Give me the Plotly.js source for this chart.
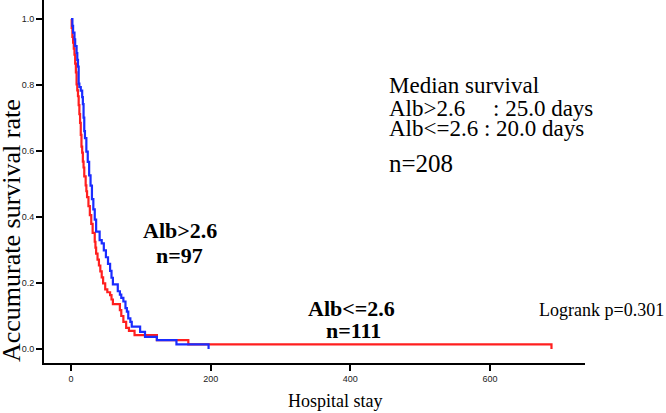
<!DOCTYPE html>
<html>
<head>
<meta charset="utf-8">
<script src="https://cdn.plot.ly/plotly-3.0.1.min.js"></script>
<style>
  html, body { margin: 0; padding: 0; background: #fff; }
  #chart { width: 666px; height: 413px; }
</style>
</head>
<body>
<div id="chart"></div>
<script>
// Kaplan-Meier survival by serum albumin group (days of hospital stay)
const groupNames = ['Alb<=2.6', 'Alb>2.6'];
const groupCounts = [111, 97];

// Alb<=2.6 : step times and survival after each step
const lowAlbDays = [0, 1, 2, 3, 4, 5, 6, 7, 8, 9, 10, 11, 12, 13, 14, 15, 16, 17, 18, 19,
  21, 22, 23, 25, 27, 29, 31, 34, 35, 36, 38, 40, 42, 44, 46, 49, 52, 56, 58, 60,
  70, 72, 75, 79, 83, 91, 123, 168, 688];
const lowAlbSurv = [1.0, 0.973, 0.946, 0.928, 0.91, 0.892, 0.865, 0.838, 0.802, 0.784,
  0.766, 0.739, 0.712, 0.685, 0.649, 0.613, 0.595, 0.568, 0.550, 0.523,
  0.496, 0.478, 0.460, 0.433, 0.406, 0.379, 0.352, 0.325, 0.307, 0.289,
  0.271, 0.253, 0.235, 0.217, 0.199, 0.181, 0.172, 0.163, 0.150, 0.136,
  0.118, 0.100, 0.082, 0.064, 0.055, 0.042, 0.027, 0.014, 0];

// Alb>2.6 : step times and survival after each step
const highAlbDays = [0, 2, 3, 5, 6, 8, 9, 10, 11, 12, 14, 16, 17, 18, 19, 20, 22, 24, 26, 28,
  30, 32, 34, 36, 41, 44, 47, 50, 53, 56, 58, 60, 67, 70, 72, 75, 78, 80, 82, 85,
  87, 99, 106, 123, 151, 197];
const highAlbSurv = [1.0, 0.979, 0.959, 0.938, 0.918, 0.897, 0.876, 0.856, 0.804, 0.794,
  0.783, 0.763, 0.742, 0.701, 0.660, 0.639, 0.598, 0.567, 0.526, 0.495,
  0.454, 0.423, 0.392, 0.356, 0.330, 0.320, 0.299, 0.278, 0.258, 0.237,
  0.216, 0.196, 0.175, 0.165, 0.155, 0.144, 0.124, 0.113, 0.093, 0.082,
  0.068, 0.052, 0.037, 0.027, 0.014, 0];

const medianDays = [20.0, 25.0];
const totalN = 208;
const logrankP = 0.301;

const xTicks = [0, 200, 400, 600];
const yTicks = [0.0, 0.2, 0.4, 0.6, 0.8, 1.0];

const serif = 'Liberation Serif, Times New Roman, serif';
const sans = 'Liberation Sans, Arial, sans-serif';

const traces = [
  { x: lowAlbDays, y: lowAlbSurv, name: groupNames[0], type: 'scatter', mode: 'lines',
    line: { shape: 'hv', color: '#ff1f1f', width: 2.2 } },
  { x: highAlbDays, y: highAlbSurv, name: groupNames[1], type: 'scatter', mode: 'lines',
    line: { shape: 'hv', color: '#1a2cff', width: 2.2 } }
];

const esc = s => s.replace(/</g, '&lt;').replace(/>/g, '&gt;');

const annotations = [
  { x: 452, y: 0.80, xanchor: 'left', yanchor: 'middle', text: 'Median survival',
    font: { family: serif, size: 23, color: '#000' } },
  { x: 452, y: 0.729, xanchor: 'left', yanchor: 'middle', text: esc(groupNames[1]),
    font: { family: serif, size: 23, color: '#000' } },
  { x: 601, y: 0.729, xanchor: 'left', yanchor: 'middle', text: ': ' + medianDays[1].toFixed(1) + ' days',
    font: { family: serif, size: 23, color: '#000' } },
  { x: 452, y: 0.669, xanchor: 'left', yanchor: 'middle',
    text: esc(groupNames[0]) + ' : ' + medianDays[0].toFixed(1) + ' days',
    font: { family: serif, size: 23, color: '#000' } },
  { x: 452, y: 0.5636, xanchor: 'left', yanchor: 'middle', text: 'n=' + totalN,
    font: { family: serif, size: 25, color: '#000' } },
  { x: 156, y: 0.3606, xanchor: 'center', yanchor: 'middle', text: '<b>' + esc(groupNames[1]) + '</b>',
    font: { family: serif, size: 22, color: '#000' } },
  { x: 155, y: 0.2848, xanchor: 'center', yanchor: 'middle', text: '<b>n=' + groupCounts[1] + '</b>',
    font: { family: serif, size: 22, color: '#000' } },
  { x: 401, y: 0.1242, xanchor: 'center', yanchor: 'middle', text: '<b>' + esc(groupNames[0]) + '</b>',
    font: { family: serif, size: 22, color: '#000' } },
  { x: 404, y: 0.0576, xanchor: 'center', yanchor: 'middle', text: '<b>n=' + groupCounts[0] + '</b>',
    font: { family: serif, size: 22, color: '#000' } },
  { x: 667, y: 0.118, xanchor: 'left', yanchor: 'middle', text: 'Logrank p=' + logrankP.toFixed(3),
    font: { family: serif, size: 18, color: '#000' } },
  // axis titles
  { xref: 'paper', yref: 'paper', x: (335 - 44) / 541, y: 0, yshift: -38, xanchor: 'center', yanchor: 'middle',
    text: 'Hospital stay', font: { family: serif, size: 18, color: '#000' } },
  { xref: 'paper', yref: 'paper', x: 0, xshift: -33, y: (363 - 231) / 363, xanchor: 'center', yanchor: 'middle',
    textangle: -90, text: 'Accumurate survival rate', font: { family: serif, size: 26, color: '#000' } }
];
annotations.forEach(a => { a.showarrow = false; a.xref = a.xref || 'x'; a.yref = a.yref || 'y'; });

const layout = {
  width: 666, height: 413,
  margin: { l: 44, r: 81, t: 0, b: 50 },
  paper_bgcolor: '#fff', plot_bgcolor: '#fff',
  showlegend: false,
  xaxis: {
    range: [-38.65, 736], tickvals: xTicks, ticktext: xTicks.map(String),
    showgrid: false, zeroline: false, showline: true, linecolor: '#000', linewidth: 2,
    ticks: 'outside', ticklen: 6, tickwidth: 2, tickcolor: '#000',
    tickfont: { family: sans, size: 9, color: '#222' }
  },
  yaxis: {
    range: [-0.0424, 1.0576], tickvals: yTicks, ticktext: yTicks.map(v => v.toFixed(1)),
    showgrid: false, zeroline: false, showline: true, linecolor: '#000', linewidth: 2,
    ticks: 'outside', ticklen: 6, tickwidth: 2, tickcolor: '#000',
    tickfont: { family: sans, size: 9, color: '#222' }
  },
  annotations: annotations
};

Plotly.newPlot('chart', traces, layout, { staticPlot: true, displayModeBar: false });
</script>
</body>
</html>
